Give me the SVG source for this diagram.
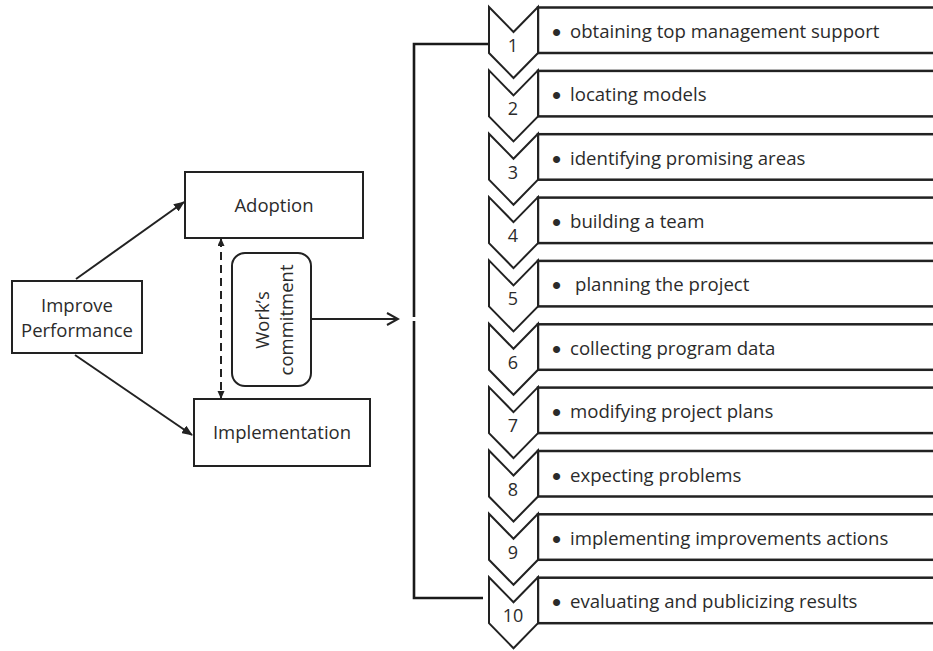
<svg xmlns="http://www.w3.org/2000/svg" xmlns:xlink="http://www.w3.org/1999/xlink" width="933" height="651" viewBox="0 0 933 651">
  <style>
    .box { fill: #fff; stroke: #222; stroke-width: 2; }
    .bar { fill: #fff; stroke: #222; stroke-width: 2.5; }
    .chev { fill: #fff; stroke: #222; stroke-width: 2; stroke-linejoin: miter; }
    .line { fill: none; stroke: #222; stroke-width: 2; }
    .bracket { fill: none; stroke: #1a1a1a; stroke-width: 2.6; }
    .t { font-family: "Open Sans", "Liberation Sans", sans-serif; font-size: 18.5px; fill: #2b2b2b; }
    .s { font-family: "Open Sans", "Liberation Sans", sans-serif; font-size: 18.6px; fill: #2b2b2b; }
    .b { font-family: "Liberation Sans", sans-serif; font-size: 26px; }
    .num { font-family: "Open Sans", "Liberation Sans", sans-serif; font-size: 18px; fill: #2b2b2b; text-anchor: middle; }
    .c { text-anchor: middle; }
  </style>
  <defs>
    <marker id="tri" markerUnits="userSpaceOnUse" markerWidth="11" markerHeight="9" refX="10" refY="4.5" orient="auto">
      <path d="M0,0 L11,4.5 L0,9 z" fill="#222"/>
    </marker>
    <marker id="triSmall" markerUnits="userSpaceOnUse" markerWidth="8" markerHeight="8" refX="7" refY="3.5" orient="auto-start-reverse">
      <path d="M0,0 L8,3.5 L0,7 z" fill="#222"/>
    </marker>
    <marker id="open" markerUnits="userSpaceOnUse" markerWidth="14" markerHeight="14" refX="12" refY="7" orient="auto">
      <path d="M1,1 L12,7 L1,13" fill="none" stroke="#222" stroke-width="2"/>
    </marker>
    <polygon id="chevron" points="489,0 513.5,25 538,0 538,46 513.5,71 489,46"/>
  </defs>

  <!-- left-hand nodes -->
  <g id="improve-performance">
    <rect class="box" x="12" y="281" width="130" height="72"/>
    <text class="t c" x="77" y="312">Improve</text>
    <text class="t c" x="77" y="337">Performance</text>
  </g>
  <g id="adoption">
    <rect class="box" x="185" y="172" width="178" height="66"/>
    <text class="t c" x="274" y="212">Adoption</text>
  </g>
  <g id="implementation">
    <rect class="box" x="194" y="399" width="176" height="67"/>
    <text class="t c" x="282" y="439">Implementation</text>
  </g>
  <g id="works-commitment">
    <rect class="box" x="232" y="253" width="79" height="133" rx="13" ry="13"/>
    <text class="t c" transform="translate(269,320) rotate(-90)" x="0" y="0">Work’s</text>
    <text class="t c" transform="translate(293,320) rotate(-90)" x="0" y="0">commitment</text>
  </g>

  <!-- connectors -->
  <g id="connectors">
    <line class="line" x1="76" y1="279" x2="184" y2="202" marker-end="url(#tri)"/>
    <line class="line" x1="75" y1="355" x2="192" y2="435" marker-end="url(#tri)"/>
    <line class="line" x1="221" y1="239" x2="221" y2="398" stroke-dasharray="8 5" marker-start="url(#triSmall)" marker-end="url(#triSmall)"/>
    <line class="line" x1="311" y1="319" x2="398" y2="319" marker-end="url(#open)"/>
    <path class="bracket" d="M489,44 H414 V317"/>
    <path class="bracket" d="M414,321 V598 H483"/>
  </g>

  <!-- ten numbered steps -->
  <g id="step-1" transform="translate(0,7)">
    <rect class="bar" x="538" y="0.5" width="420" height="45.5"/>
    <use xlink:href="#chevron" class="chev"/>
    <text class="num" x="513" y="45">1</text>
    <text class="s" x="552" y="31"><tspan class="b" dy="3">•</tspan><tspan x="570" dy="-3">obtaining top management support</tspan></text>
  </g>
  <g id="step-2" transform="translate(0,70.4)">
    <rect class="bar" x="538" y="0.5" width="420" height="45.5"/>
    <use xlink:href="#chevron" class="chev"/>
    <text class="num" x="513" y="45">2</text>
    <text class="s" x="552" y="31"><tspan class="b" dy="3">•</tspan><tspan x="570" dy="-3">locating models</tspan></text>
  </g>
  <g id="step-3" transform="translate(0,133.7)">
    <rect class="bar" x="538" y="0.5" width="420" height="45.5"/>
    <use xlink:href="#chevron" class="chev"/>
    <text class="num" x="513" y="45">3</text>
    <text class="s" x="552" y="31"><tspan class="b" dy="3">•</tspan><tspan x="570" dy="-3">identifying promising areas</tspan></text>
  </g>
  <g id="step-4" transform="translate(0,197.1)">
    <rect class="bar" x="538" y="0.5" width="420" height="45.5"/>
    <use xlink:href="#chevron" class="chev"/>
    <text class="num" x="513" y="45">4</text>
    <text class="s" x="552" y="31"><tspan class="b" dy="3">•</tspan><tspan x="570" dy="-3">building a team</tspan></text>
  </g>
  <g id="step-5" transform="translate(0,260.4)">
    <rect class="bar" x="538" y="0.5" width="420" height="45.5"/>
    <use xlink:href="#chevron" class="chev"/>
    <text class="num" x="513" y="45">5</text>
    <text class="s" x="552" y="31"><tspan class="b" dy="3">•</tspan><tspan x="575" dy="-3">planning the project</tspan></text>
  </g>
  <g id="step-6" transform="translate(0,323.8)">
    <rect class="bar" x="538" y="0.5" width="420" height="45.5"/>
    <use xlink:href="#chevron" class="chev"/>
    <text class="num" x="513" y="45">6</text>
    <text class="s" x="552" y="31"><tspan class="b" dy="3">•</tspan><tspan x="570" dy="-3">collecting program data</tspan></text>
  </g>
  <g id="step-7" transform="translate(0,387.1)">
    <rect class="bar" x="538" y="0.5" width="420" height="45.5"/>
    <use xlink:href="#chevron" class="chev"/>
    <text class="num" x="513" y="45">7</text>
    <text class="s" x="552" y="31"><tspan class="b" dy="3">•</tspan><tspan x="570" dy="-3">modifying project plans</tspan></text>
  </g>
  <g id="step-8" transform="translate(0,450.5)">
    <rect class="bar" x="538" y="0.5" width="420" height="45.5"/>
    <use xlink:href="#chevron" class="chev"/>
    <text class="num" x="513" y="45">8</text>
    <text class="s" x="552" y="31"><tspan class="b" dy="3">•</tspan><tspan x="570" dy="-3">expecting problems</tspan></text>
  </g>
  <g id="step-9" transform="translate(0,513.8)">
    <rect class="bar" x="538" y="0.5" width="420" height="45.5"/>
    <use xlink:href="#chevron" class="chev"/>
    <text class="num" x="513" y="45">9</text>
    <text class="s" x="552" y="31"><tspan class="b" dy="3">•</tspan><tspan x="570" dy="-3">implementing improvements actions</tspan></text>
  </g>
  <g id="step-10" transform="translate(0,577.2)">
    <rect class="bar" x="538" y="0.5" width="420" height="45.5"/>
    <use xlink:href="#chevron" class="chev"/>
    <text class="num" x="513" y="45">10</text>
    <text class="s" x="552" y="31"><tspan class="b" dy="3">•</tspan><tspan x="570" dy="-3">evaluating and publicizing results</tspan></text>
  </g>
</svg>
